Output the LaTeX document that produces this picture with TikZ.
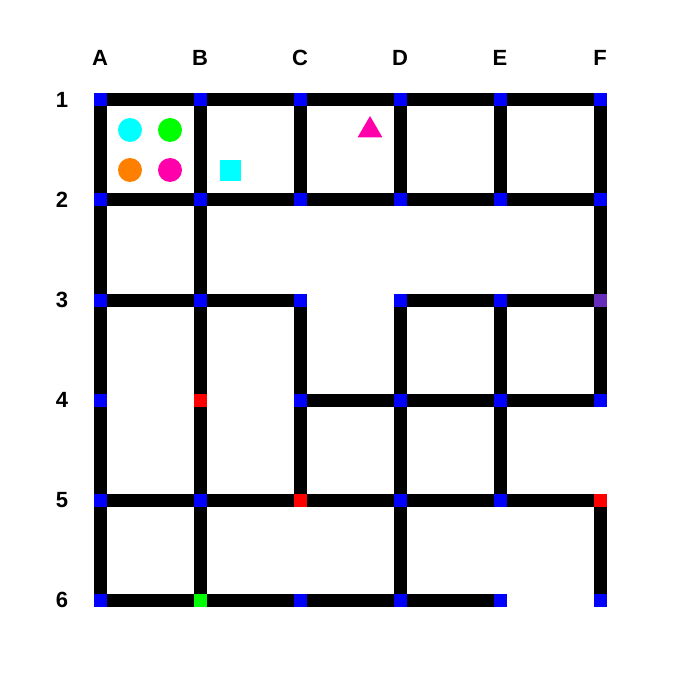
\documentclass[tikz,border=0pt]{standalone}
\usepackage{fontspec}
\setmainfont{Liberation Sans}
\usetikzlibrary{backgrounds}
\begin{document}
\begin{tikzpicture}[x=1pt,y=-1pt,
  pt/.style={rectangle,inner sep=0pt,minimum size=13pt,fill=blue},
  wall/.style={line width=13pt,black},
  lab/.style={font=\bfseries\fontsize{22}{22}\selectfont}]
\definecolor{ppl}{RGB}{102,45,186}
\definecolor{mag}{RGB}{255,0,170}
\definecolor{org}{RGB}{255,128,0}
\definecolor{cyn}{RGB}{0,255,255}
\definecolor{grn}{RGB}{0,255,0}
\definecolor{blu}{RGB}{0,0,255}
\definecolor{rd}{RGB}{255,0,0}
\useasboundingbox (0,0) rectangle (700,700);
% column / row labels
\foreach \c/\x in {A/100,B/200,C/300,D/400,E/500,F/600}
  \node[lab] (lab\c) at (\x,58) {\c};
\foreach \r in {1,...,6}
  \node[lab] (labr\r) at (62,\r*100) {\r};
% grid points
\foreach \c/\x in {A/100,B/200,C/300,D/400,E/500,F/600}
  \foreach \r in {1,...,6}
    \node[pt,fill=blu] (\c\r) at (\x,\r*100) {};
\node[pt,fill=rd] at (B4) {};
\node[pt,fill=rd] at (C5) {};
\node[pt,fill=rd] at (F5) {};
\node[pt,fill=grn] at (B6) {};
\node[pt,fill=ppl] at (F3) {};
\begin{pgfonlayer}{background}
% horizontal walls
\foreach \a/\b in {A1/B1,B1/C1,C1/D1,D1/E1,E1/F1,
                   A2/B2,B2/C2,C2/D2,D2/E2,E2/F2,
                   A3/B3,B3/C3,D3/E3,E3/F3,
                   C4/D4,D4/E4,E4/F4,
                   A5/B5,B5/C5,C5/D5,D5/E5,E5/F5,
                   A6/B6,B6/C6,C6/D6,D6/E6}
  \draw[wall] (\a.center) -- (\b.center);
% vertical walls
\foreach \a/\b in {A1/A2,A2/A3,A3/A4,A4/A5,A5/A6,
                   B1/B2,B2/B3,B3/B4,B4/B5,B5/B6,
                   C1/C2,C3/C4,C4/C5,
                   D1/D2,D3/D4,D4/D5,D5/D6,
                   E1/E2,E3/E4,E4/E5,
                   F1/F2,F2/F3,F3/F4,F5/F6}
  \draw[wall] (\a.center) -- (\b.center);
\end{pgfonlayer}
% items
\fill[cyn] (130,130) circle (12);
\fill[grn] (170,130) circle (12);
\fill[org] (130,170) circle (12);
\fill[mag] (170,170) circle (12);
\fill[cyn] (220,160) rectangle (241,181);
\fill[mag] (370,116) -- (382.5,137.5) -- (357.5,137.5) -- cycle;
\end{tikzpicture}
\end{document}
